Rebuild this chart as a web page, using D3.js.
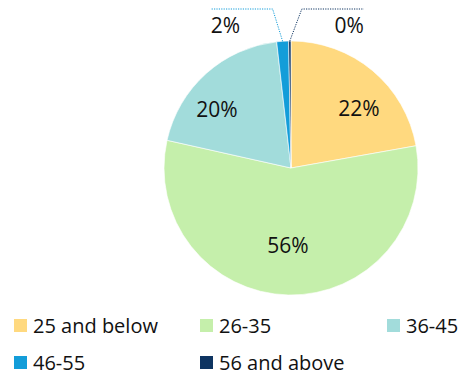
<!DOCTYPE html>
<html>
<head>
<meta charset="utf-8">
<script src="https://cdn.jsdelivr.net/npm/d3@7"></script>
<style>
  html, body { margin: 0; padding: 0; background: #fff; }
  svg { display: block; font-family: "Open Sans", "Noto Sans", sans-serif; }
</style>
</head>
<body>
<svg id="chart" width="466" height="376"></svg>
<script>
// Age-group share of respondents (percent)
const categories = ["25 and below", "26-35", "36-45", "46-55", "56 and above"];
const shares = [22.2, 56.3, 19.7, 1.5, 0.3];
const colors = ["#FFD97F", "#C5EFAB", "#A2DCDB", "#139DD9", "#0E3461"];

const svg = d3.select("#chart");
const cx = 291, cy = 168, radius = 127;

const pie = d3.pie().sort(null).value(d => d);
const arcs = pie(shares);
const arc = d3.arc().innerRadius(0).outerRadius(radius);
const edgeArc = d3.arc().innerRadius(radius).outerRadius(radius);

const color = d3.scaleOrdinal().domain(categories).range(colors);
const fmt = v => d3.format(".0f")(v) + "%";

const g = svg.append("g").attr("transform", `translate(${cx},${cy})`);

g.selectAll("path.slice")
  .data(arcs)
  .join("path")
  .attr("class", "slice")
  .attr("d", arc)
  .attr("fill", (d, i) => color(categories[i]))
  .attr("stroke", "#fff")
  .attr("stroke-width", 0.6);

// In-slice labels for the large segments (radius fraction and angular nudge per label)
const inLabels = [
  { i: 0, r: 0.71, nudge: 9 },
  { i: 1, r: 0.61, nudge: 1 },
  { i: 2, r: 0.74, nudge: -10 }
];
g.selectAll("text.inlabel")
  .data(inLabels)
  .join("text")
  .attr("class", "inlabel")
  .attr("transform", l => {
    const d = arcs[l.i];
    const a = (d.startAngle + d.endAngle) / 2 + l.nudge * Math.PI / 180;
    const rr = radius * l.r;
    return `translate(${rr * Math.sin(a)},${-rr * Math.cos(a)})`;
  })
  .attr("text-anchor", "middle")
  .attr("dy", "0.35em")
  .attr("font-size", 21)
  .attr("fill", "#111")
  .text(l => fmt(arcs[l.i].value));

// Callouts for the two thin segments
const callouts = [
  { i: 3, dx: -10, run: -62, anchor: "start" },
  { i: 4, dx: 12, run: 62, anchor: "end" }
];
const topY = 9 - cy;
callouts.forEach(c => {
  const d = arcs[c.i];
  const [sx, sy] = edgeArc.centroid(d);
  const ex = sx + c.dx;
  const pts = [[sx, sy], [ex, topY], [ex + c.run, topY]];
  g.append("path")
    .attr("d", d3.line()(pts))
    .attr("fill", "none")
    .attr("stroke", colors[c.i])
    .attr("stroke-width", 1)
    .attr("stroke-dasharray", "1.2,1.2");
  g.append("text")
    .attr("x", ex + c.run)
    .attr("y", topY + 24)
    .attr("text-anchor", c.anchor)
    .attr("font-size", 21)
    .attr("fill", "#111")
    .text(fmt(d.value));
});

// Legend
const legendPos = [
  [14, 326], [200, 326], [387, 326],
  [14, 363], [200, 363]
];
const legend = svg.append("g");
const items = legend.selectAll("g.item")
  .data(categories)
  .join("g")
  .attr("class", "item")
  .attr("transform", (d, i) => `translate(${legendPos[i][0]},${legendPos[i][1]})`);
items.append("rect")
  .attr("x", 0).attr("y", -7)
  .attr("width", 13).attr("height", 13)
  .attr("fill", d => color(d));
items.append("text")
  .attr("x", 19)
  .attr("dy", "0.35em")
  .attr("font-size", 20)
  .attr("fill", "#111")
  .text(d => d);
</script>
</body>
</html>
